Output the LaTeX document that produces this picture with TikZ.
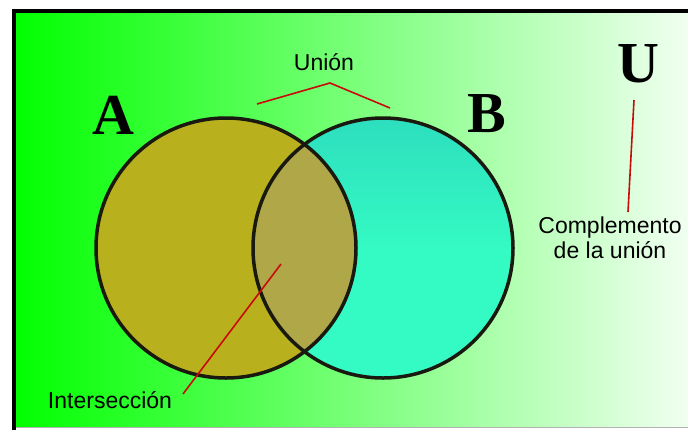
\documentclass[tikz,border=0pt]{standalone}
\usepackage{fontspec}
\setmainfont{Liberation Sans}
\newfontfamily\setfont{Liberation Serif}
\usepackage{tikz}
\usetikzlibrary{calc}
\usepackage{xcolor}

\definecolor{greenbg}{RGB}{0,255,0}
\definecolor{fillA}{RGB}{185,176,30}
\definecolor{fillB}{RGB}{52,250,195}
\definecolor{fillB2}{RGB}{45,222,190}
\definecolor{fillAB}{RGB}{176,168,72}
\definecolor{ringcol}{RGB}{25,25,15}
\definecolor{pointer}{RGB}{200,10,10}

\tikzset{
    ring/.style={draw=ringcol,line width=3.5pt},
    pointerline/.style={draw=pointer,line width=1.6pt},
    setname/.style={font=\setfont\bfseries\fontsize{58}{58}\selectfont,inner sep=0pt},
    tag/.style={font=\fontsize{23}{25}\selectfont,inner sep=0pt,align=center}
}

\begin{document}
\begin{tikzpicture}[x=1pt,y=-1pt]
    \useasboundingbox (0,0) rectangle (688,429);
    \clip (0,0) rectangle (688,429);
    % background frame
    \shade[left color=greenbg,right color=white!96!green] (12,9) rectangle (700,427);
    \draw[gray!60,line width=1pt] (12,427) -- (700,427);
    \draw[black,line width=3.5pt] (14,440) -- (14,11) -- (700,11);
    % sets
    \fill[fillA] (226,248) circle (130);
    \shade[top color=fillB2,bottom color=fillB,middle color=fillB] (383,248) circle (130);
    \begin{scope}
        \clip (226,248) circle (130);
        \fill[fillAB] (383,248) circle (130);
    \end{scope}
    \draw[ring] (226,248) circle (130);
    \draw[ring] (383,248) circle (130);
    % labels
    \node[setname] (A) at (113,115) {A};
    \node[setname] (B) at (487,114) {B};
    \node[setname] (U) at (638,64) {U};
    \node[tag] (union) at (324,62) {Unión};
    \node[tag] (compl) at (610,238) {Complemento\\de la unión};
    \node[tag] (inter) at (110,400) {Intersección};
    % pointers
    \coordinate (unionL) at (257,104);
    \coordinate (unionP) at (330,83);
    \coordinate (unionR) at (390,108);
    \draw[pointerline] (unionL) -- (unionP) -- (unionR);
    \coordinate (complT) at (634,100);
    \coordinate (complB) at (628,212);
    \draw[pointerline] (complT) -- (complB);
    \coordinate (interS) at (183,394);
    \coordinate (interE) at (281,264);
    \draw[pointerline] (interS) -- (interE);
\end{tikzpicture}
\end{document}
